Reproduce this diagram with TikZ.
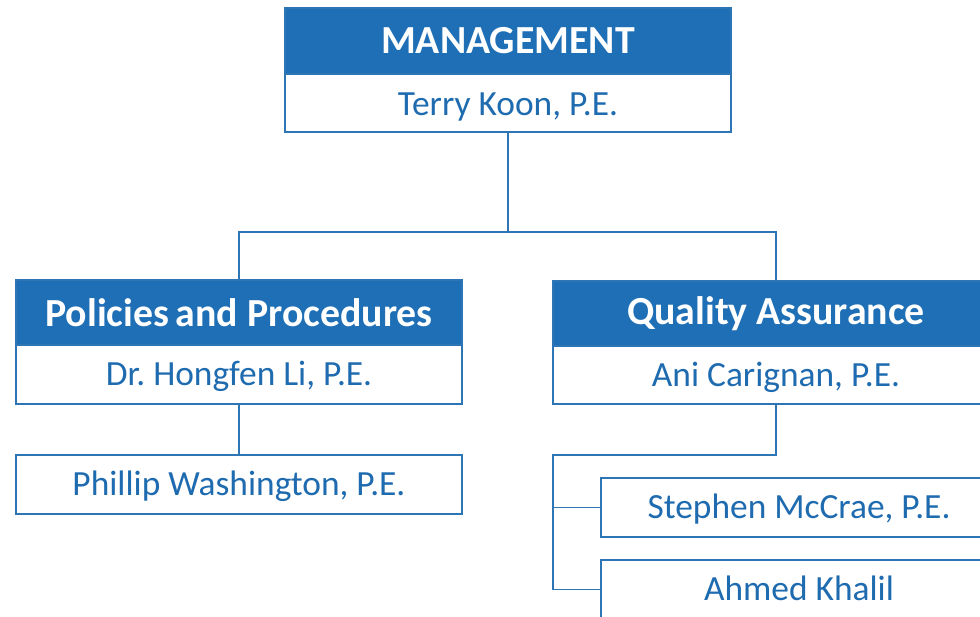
\documentclass[tikz,border=0pt]{standalone}
\usepackage{fontspec}
\setmainfont{Carlito}
\frenchspacing
\definecolor{hdrblue}{RGB}{30,111,182}
\definecolor{lineblue}{RGB}{46,117,182}
\definecolor{txtblue}{RGB}{31,107,176}
\begin{document}
\begin{tikzpicture}[x=1pt,y=-1pt,
  box/.style={draw=lineblue, line width=1.5pt, anchor=north west, inner sep=0pt, outer sep=0pt},
  hdr/.style={box, fill=hdrblue, text=white, font=\bfseries\fontsize{39.8}{42}\selectfont},
  nm/.style={box, fill=white, text=txtblue, font=\fontsize{35.4}{38}\selectfont, text height=22pt, text depth=0pt},
  conn/.style={draw=lineblue, line width=1.5pt}]
\useasboundingbox (0,0) rectangle (980,616);
\clip (0,0) rectangle (980,616);
% Management
\node[hdr, minimum width=446pt, minimum height=66pt] (mh) at (285,8) {MANAGEMENT};
\node[nm, minimum width=446pt, minimum height=58pt, text height=24pt] (mn) at (285,74) {Terry Koon, P.E.};
% Policies
\node[hdr, minimum width=446pt, minimum height=65pt] (ph) at (16,280) {Policies\,and Procedures};
\node[nm, minimum width=446pt, minimum height=59pt] (pn) at (16,345) {Dr.\ Hongfen Li, P.E.};
\node[nm, minimum width=446pt, minimum height=59pt] (pw) at (16,455) {Phillip Washington, P.E.};
% Quality
\node[hdr, minimum width=446pt, minimum height=65pt] (qh) at (553,281) {Quality Assurance};
\node[nm, minimum width=446pt, minimum height=58pt] (qn) at (553,346) {Ani Carignan, P.E.};
\node[nm, minimum width=396pt, minimum height=59pt] (sm) at (601,478) {Stephen McCrae, P.E.};
\node[nm, minimum width=396pt, minimum height=59pt] (ak) at (601,560) {Ahmed Khalil};
% connectors
\coordinate (mj) at (508,232);
\draw[conn] (mn.south) -- (mj);
\draw[conn] (mj) -| (ph.north);
\draw[conn] (mj) -| (qh.north);
\draw[conn] (pn.south) -- (pw.north);
\coordinate (qv) at (553,455);
\draw[conn] (qn.south) |- (qv) |- (ak.west);
\draw[conn] (qv |- sm.west) -- (sm.west);
\end{tikzpicture}
\end{document}
